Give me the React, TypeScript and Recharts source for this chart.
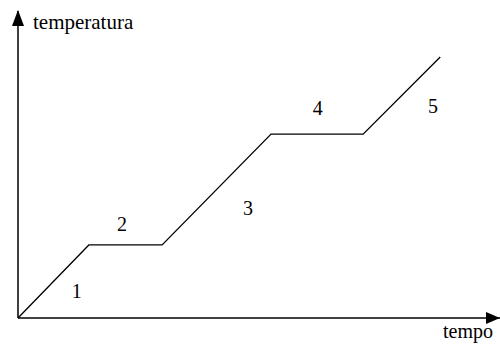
import { LineChart, Line, XAxis, YAxis, ReferenceLine, ReferenceDot } from 'recharts';

// time / temperature of the heating curve vertices
const tempo = [0, 14.7, 29.9, 52.5, 71.6, 87.6];
const temperatura = [0, 23.8, 23.8, 59.9, 59.9, 85];

// stage numbers and where they sit (data units)
const stageLabels = ['1', '2', '3', '4', '5'];
const stageX = [12.2, 21.6, 47.7, 62.2, 86.1];
const stageY = [6.5, 28.3, 33.6, 66.1, 66.8];

const xAxisTitle = 'tempo';
const yAxisTitle = 'temperatura';

const data = tempo.map((t, i) => ({ tempo: t, temperatura: temperatura[i] }));

const FONT = '"Liberation Serif", "Times New Roman", serif';

// axis line label: arrowhead at the far end + axis title
const YAxisEnd = ({ viewBox }: any) => {
  const { x, y } = viewBox;
  return (
    <g>
      <polygon points={`${x},${y - 1} ${x - 6},${y + 15} ${x + 6},${y + 15}`} fill="#000" />
      <text x={x + 15} y={y + 18} fontFamily={FONT} fontSize={21} fill="#000">
        {yAxisTitle}
      </text>
    </g>
  );
};

const XAxisEnd = ({ viewBox }: any) => {
  const { x, y, width } = viewBox;
  const tip = x + width;
  return (
    <g>
      <polygon points={`${tip},${y} ${tip - 14},${y - 6} ${tip - 14},${y + 6}`} fill="#000" />
      <text x={tip - 7} y={y + 20} textAnchor="end" fontFamily={FONT} fontSize={20} fill="#000">
        {xAxisTitle}
      </text>
    </g>
  );
};

const StageText = (text: string) => ({ cx, cy }: { cx?: number; cy?: number }) => {
  if (cx == null || cy == null) return <g />;
  return (
    <text x={cx} y={cy} textAnchor="middle" fontFamily={FONT} fontSize={20} fill="#000">
      {text}
    </text>
  );
};

export default function App() {
  return (
    <div style={{ position: 'absolute', left: 0, top: 0, background: '#fff' }}>
      <LineChart width={500} height={345} data={data} margin={{ top: 11, right: 0, bottom: 27, left: 18 }}>
        <XAxis type="number" dataKey="tempo" domain={[0, 100]} hide />
        <YAxis type="number" domain={[0, 100]} hide />
        <ReferenceLine x={0} stroke="#000" strokeWidth={1.5} label={YAxisEnd} />
        <ReferenceLine y={0} stroke="#000" strokeWidth={1.5} label={XAxisEnd} />
        {stageLabels.map((s, i) => (
          <ReferenceDot key={s} x={stageX[i]} y={stageY[i]} r={0} shape={StageText(s)} />
        ))}
        <Line
          type="linear"
          dataKey="temperatura"
          stroke="#000"
          strokeWidth={1.3}
          dot={false}
          isAnimationActive={false}
        />
      </LineChart>
    </div>
  );
}
